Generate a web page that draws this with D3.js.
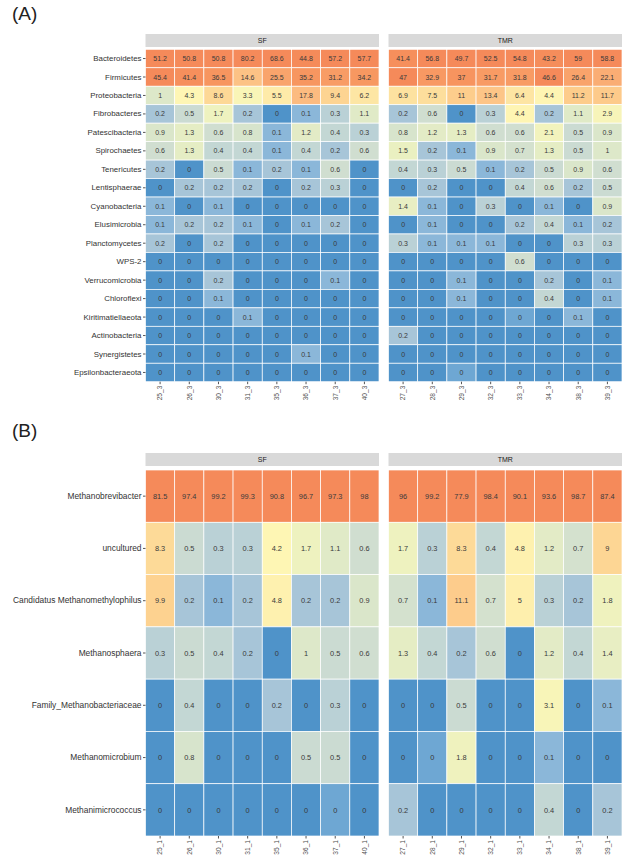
<!DOCTYPE html>
<html>
<head>
<meta charset="utf-8">
<script src="https://cdn.jsdelivr.net/npm/d3@7"></script>
<style>
  html, body { margin: 0; padding: 0; background: #fff; }
  svg { display: block; font-family: "Liberation Sans", Arial, sans-serif; }
</style>
</head>
<body>
<svg id="chart" width="625" height="866"></svg>
<script>
// Panel A: phyla (% relative abundance), columns = samples per diet
var phyla = ['Bacteroidetes', 'Firmicutes', 'Proteobacteria', 'Fibrobacteres', 'Patescibacteria',
  'Spirochaetes', 'Tenericutes', 'Lentisphaerae', 'Cyanobacteria', 'Elusimicrobia', 'Planctomycetes',
  'WPS-2', 'Verrucomicrobia', 'Chloroflexi', 'Kiritimatiellaeota', 'Actinobacteria', 'Synergistetes',
  'Epsilonbacteraeota'];
var samplesSF_A = ['25_3', '26_3', '30_3', '31_3', '35_3', '36_3', '37_3', '40_3'];
var samplesTMR_A = ['27_3', '28_3', '29_3', '32_3', '33_3', '34_3', '38_3', '39_3'];
var phylaSF = [
  [51.2, 50.8, 50.8, 80.2, 68.6, 44.8, 57.2, 57.7],
  [45.4, 41.4, 36.5, 14.6, 25.5, 35.2, 31.2, 34.2],
  [1, 4.3, 8.6, 3.3, 5.5, 17.8, 9.4, 6.2],
  [0.2, 0.5, 1.7, 0.2, 0, 0.1, 0.3, 1.1],
  [0.9, 1.3, 0.6, 0.8, 0.1, 1.2, 0.4, 0.3],
  [0.6, 1.3, 0.4, 0.4, 0.1, 0.4, 0.2, 0.6],
  [0.2, 0, 0.5, 0.1, 0.2, 0.1, 0.6, 0],
  [0, 0.2, 0.2, 0.2, 0, 0.2, 0.3, 0],
  [0.1, 0, 0.1, 0, 0, 0, 0, 0],
  [0.1, 0.2, 0.2, 0.1, 0, 0.1, 0.2, 0],
  [0.2, 0, 0.2, 0, 0, 0, 0, 0],
  [0, 0, 0, 0, 0, 0, 0, 0],
  [0, 0, 0.2, 0, 0, 0, 0.1, 0],
  [0, 0, 0.1, 0, 0, 0, 0, 0],
  [0, 0, 0, 0.1, 0, 0, 0, 0],
  [0, 0, 0, 0, 0, 0, 0, 0],
  [0, 0, 0, 0, 0, 0.1, 0, 0],
  [0, 0, 0, 0, 0, 0, 0, 0]
];
var phylaTMR = [
  [41.4, 56.8, 49.7, 52.5, 54.8, 43.2, 59, 58.8],
  [47, 32.9, 37, 31.7, 31.8, 46.6, 26.4, 22.1],
  [6.9, 7.5, 11, 13.4, 6.4, 4.4, 11.2, 11.7],
  [0.2, 0.6, 0, 0.3, 4.4, 0.2, 1.1, 2.9],
  [0.8, 1.2, 1.3, 0.6, 0.6, 2.1, 0.5, 0.9],
  [1.5, 0.2, 0.1, 0.9, 0.7, 1.3, 0.5, 1],
  [0.4, 0.3, 0.5, 0.1, 0.2, 0.5, 0.9, 0.6],
  [0, 0.2, 0, 0, 0.4, 0.6, 0.2, 0.5],
  [1.4, 0.1, 0, 0.3, 0, 0.1, 0, 0.9],
  [0, 0.1, 0, 0, 0.2, 0.4, 0.1, 0.2],
  [0.3, 0.1, 0.1, 0.1, 0, 0, 0.3, 0.3],
  [0, 0, 0, 0, 0.6, 0, 0, 0],
  [0, 0, 0.1, 0, 0, 0.2, 0, 0.1],
  [0, 0, 0.1, 0, 0, 0.4, 0, 0.1],
  [0, 0, 0, 0, 0.04, 0, 0.1, 0],
  [0.2, 0, 0, 0, 0, 0, 0, 0],
  [0, 0, 0, 0, 0, 0, 0, 0],
  [0, 0, 0.04, 0, 0, 0, 0, 0]
];

// Panel B: methanogen genera
var genera = ['Methanobrevibacter', 'uncultured', 'Candidatus Methanomethylophilus', 'Methanosphaera',
  'Family_Methanobacteriaceae', 'Methanomicrobium', 'Methanimicrococcus'];
var samplesSF_B = ['25_1', '26_1', '30_1', '31_1', '35_1', '36_1', '37_1', '40_1'];
var samplesTMR_B = ['27_1', '28_1', '29_1', '32_1', '33_1', '34_1', '38_1', '39_1'];
var generaSF = [
  [81.5, 97.4, 99.2, 99.3, 90.8, 96.7, 97.3, 98],
  [8.3, 0.5, 0.3, 0.3, 4.2, 1.7, 1.1, 0.6],
  [9.9, 0.2, 0.1, 0.2, 4.8, 0.2, 0.2, 0.9],
  [0.3, 0.5, 0.4, 0.2, 0, 1, 0.5, 0.6],
  [0, 0.4, 0, 0, 0.2, 0, 0.3, 0],
  [0, 0.8, 0, 0, 0, 0.5, 0.5, 0],
  [0, 0, 0, 0, 0, 0, 0.04, 0]
];
var generaTMR = [
  [96, 99.2, 77.9, 98.4, 90.1, 93.6, 98.7, 87.4],
  [1.7, 0.3, 8.3, 0.4, 4.8, 1.2, 0.7, 9],
  [0.7, 0.1, 11.1, 0.7, 5, 0.3, 0.2, 1.8],
  [1.3, 0.4, 0.2, 0.6, 0, 1.2, 0.4, 1.4],
  [0, 0, 0.5, 0, 0, 3.1, 0, 0.1],
  [0, 0.04, 1.8, 0, 0, 0.1, 0, 0],
  [0.2, 0, 0, 0, 0, 0.4, 0, 0.2]
];
var dietLabels = ['SF', 'TMR'];

// colour: log-ish transform onto a soft RdYlBu ramp
var tf = function(v) { return Math.log10(v + 0.03); };
var fill = d3.scaleLinear()
  .domain([-1.52, -1.15, -0.886, -0.638, -0.48, -0.276, 0.013, 0.24, 0.636, 0.936, 1.04, 1.25, 1.4, 1.56, 1.66])
  .range(['#4f93c9', '#6ea7d3', '#8bb7d9', '#a7c5d8', '#bad1d6', '#cbdbd2', '#dde8c9', '#eef2bf',
    '#fef6b4', '#fdd896', '#fdcd8c', '#fcbb80', '#f9a56d', '#f7955f', '#f58a5a'])
  .clamp(true);
var fmt = function(v) { return String(+v.toFixed(1)); };

var svg = d3.select('#chart');

function drawPanel({ tag, tagY, rows, values, samples, stripTop, top, bottom, rowFont, cellFont }) {
  var left = 145.5, facetW = 233.5, gap = 9.5;
  var g = svg.append('g');

  g.append('text')
    .attr('x', 12).attr('y', tagY)
    .attr('font-size', 19).attr('fill', '#222')
    .text(tag);

  var y = d3.scaleBand().domain(rows).range([top, bottom]);

  dietLabels.forEach(function(diet, k) {
    var x0 = left + k * (facetW + gap);
    var x = d3.scaleBand().domain(samples[k]).range([x0, x0 + facetW]);

    g.append('rect')
      .attr('x', x0).attr('y', stripTop)
      .attr('width', facetW).attr('height', 13)
      .attr('fill', '#d9d9d9');
    g.append('text')
      .attr('x', x0 + facetW / 2).attr('y', stripTop + 9.3)
      .attr('text-anchor', 'middle')
      .attr('font-size', 7).attr('fill', '#1a1a1a')
      .text(diet);

    var cells = [];
    rows.forEach(function(r, i) {
      samples[k].forEach(function(s, j) {
        cells.push({ row: r, sample: s, value: values[k][i][j] });
      });
    });

    var cell = g.selectAll(null).data(cells).enter().append('g');
    cell.append('rect')
      .attr('x', function(d) { return x(d.sample); })
      .attr('y', function(d) { return y(d.row); })
      .attr('width', x.bandwidth())
      .attr('height', y.bandwidth())
      .attr('fill', function(d) { return fill(tf(d.value)); })
      .attr('stroke', '#fff')
      .attr('stroke-width', 0.7);
    cell.append('text')
      .attr('x', function(d) { return x(d.sample) + x.bandwidth() / 2; })
      .attr('y', function(d) { return y(d.row) + y.bandwidth() / 2; })
      .attr('dy', '0.36em')
      .attr('text-anchor', 'middle')
      .attr('font-size', cellFont)
      .attr('fill', '#3a3a3a')
      .text(function(d) { return fmt(d.value); });

    var xAxis = g.append('g')
      .attr('transform', 'translate(0,' + bottom + ')')
      .call(d3.axisBottom(x).tickSize(2.5).tickPadding(1.5));
    xAxis.select('.domain').remove();
    xAxis.selectAll('line').attr('stroke', '#555');
    xAxis.selectAll('text')
      .attr('font-size', 6.6).attr('fill', '#4d4d4d')
      .attr('font-family', '"Liberation Sans", Arial, sans-serif')
      .attr('text-anchor', 'end')
      .attr('dy', '0.35em')
      .attr('transform', 'translate(0,4) rotate(-90)')
      .attr('x', 0).attr('y', 0);
  });

  var yAxis = g.append('g')
    .attr('transform', 'translate(' + left + ',0)')
    .call(d3.axisLeft(y).tickSize(2.5).tickPadding(1.5));
  yAxis.select('.domain').remove();
  yAxis.selectAll('line').attr('stroke', '#555');
  yAxis.selectAll('text')
    .attr('font-size', rowFont).attr('fill', '#333')
    .attr('font-family', '"Liberation Sans", Arial, sans-serif');
}

drawPanel({
  tag: '(A)', tagY: 20,
  rows: phyla, values: [phylaSF, phylaTMR], samples: [samplesSF_A, samplesTMR_A],
  stripTop: 34, top: 49.3, bottom: 381.7, rowFont: 7.9, cellFont: 7
});
drawPanel({
  tag: '(B)', tagY: 437,
  rows: genera, values: [generaSF, generaTMR], samples: [samplesSF_B, samplesTMR_B],
  stripTop: 453, top: 470, bottom: 836, rowFont: 8.4, cellFont: 7.4
});
</script>
</body>
</html>
